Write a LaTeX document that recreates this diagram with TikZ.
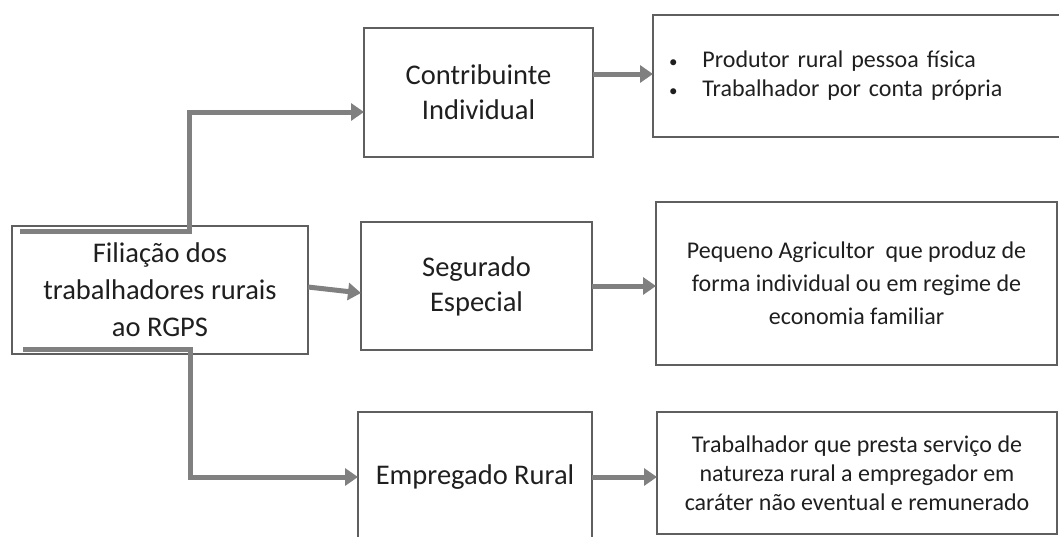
\documentclass[tikz,border=0pt]{standalone}
\usepackage{fontspec}
\setmainfont{Carlito}
\usetikzlibrary{arrows.meta}
\definecolor{borda}{RGB}{95,95,95}
\definecolor{seta}{RGB}{128,128,128}
\newcommand{\marca}{{\fontsize{17}{17}\selectfont\textbullet}\hspace{25pt}}
\tikzset{
  caixa/.style={draw=borda, line width=2.5pt, align=center, inner sep=0pt, outer sep=0pt, text=black!88},
  meio/.style={caixa, font=\fontsize{28.5}{35}\selectfont},
  texto/.style={caixa, font=\fontsize{24}{29}\selectfont},
  conn/.style={draw=seta, line width=5pt, -{Triangle[length=13pt,width=17pt]}},
}
\begin{document}
\begin{tikzpicture}[x=1pt,y=-1pt]
\useasboundingbox (0,0) rectangle (1059,536);

%caixas
\node[caixa, minimum width=296pt, minimum height=128pt, font=\fontsize{28.5}{37}\selectfont] (raiz) at (160,290) {Filiação dos\\trabalhadores rurais\\ao RGPS};
\node[meio, minimum width=229pt, minimum height=129pt] (contrib) at (478.5,92.5) {Contribuinte\\Individual};
\node[meio, minimum width=231pt, minimum height=128pt] (segurado) at (476.5,286) {Segurado\\Especial};
\node[meio, minimum width=234pt, minimum height=130pt] (empreg) at (475,477) {Empregado Rural};

\node[texto, minimum height=122pt, text width=375pt, inner xsep=16pt, align=left] (lista) at (856.5,76) {\marca Produtor rural pessoa física\\\marca Trabalhador por conta própria};
\node[texto, font=\fontsize{24}{33}\selectfont, minimum width=401pt, minimum height=163pt] (pequeno) at (856.5,283.5) {Pequeno Agricultor~ que produz de\\forma individual ou em regime de\\economia familiar};
\node[texto, minimum width=400pt, minimum height=122pt] (trab) at (857,473) {Trabalhador que presta serviço de\\natureza rural a empregador em\\caráter não eventual e remunerado};

%setas
\coordinate (joelho1) at (189,112);
\coordinate (joelho2) at (190,477);
\draw[conn] ([shift={(8,5)}]raiz.north west) -| (joelho1) -- (joelho1 -| contrib.west);
\draw[conn] ([yshift=3pt]raiz.east) -- ([yshift=-7pt]segurado.west);
\draw[conn] ([shift={(11,-5)}]raiz.south west) -| (joelho2) -- (joelho2 -| empreg.west);
\draw[conn] ([yshift=18.5pt]contrib.east) -- ([yshift=18.5pt]contrib.east -| lista.west);
\draw[conn] (segurado.east) -- (segurado.east -| pequeno.west);
\draw[conn] (empreg.east) -- (empreg.east -| trab.west);

\end{tikzpicture}
\end{document}
